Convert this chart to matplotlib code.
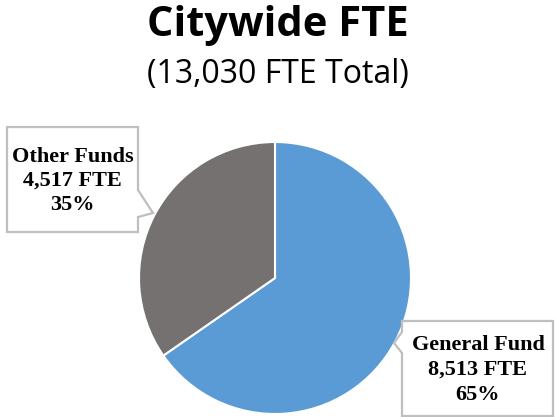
import matplotlib
matplotlib.use("Agg")
import matplotlib.pyplot as plt
import numpy as np
from matplotlib.patches import Polygon

title = "Citywide FTE"
subtitle = "(13,030 FTE Total)"
categories = ["General Fund", "Other Funds"]
fte = [8513, 4517]
pct_labels = ["65%", "35%"]
colors = ["#5B9BD5", "#767171"]

W, H = 555, 417
fig = plt.figure(figsize=(W / 100, H / 100), dpi=100)
fig.patch.set_facecolor("white")

def fx(px):
    return px / W

def fy(py):
    return 1 - py / H

cx, cy, r = 275, 278, 136
ax = fig.add_axes([fx(cx - r), fy(cy + r), 2 * r / W, 2 * r / H])
wedges, _ = ax.pie(fte, colors=colors, startangle=90, counterclock=False,
                   wedgeprops=dict(edgecolor="white", linewidth=1.5))
ax.set_xlim(-1, 1)
ax.set_ylim(-1, 1)
ax.set_aspect("auto")
ax.axis("off")

fig.text(0.5, fy(26), title, ha="center", va="center", fontsize=30,
         fontweight="bold", family="Open Sans")
fig.text(0.5, fy(75), subtitle, ha="center", va="center", fontsize=23,
         family="Open Sans")

edge = "#BFBFBF"

def callout(pts):
    poly = Polygon([(fx(x), fy(y)) for x, y in pts], closed=True,
                   facecolor="white", edgecolor=edge, linewidth=1.6,
                   transform=fig.transFigure, zorder=5)
    fig.add_artist(poly)

# Other Funds box (left) with pointer on right edge
callout([(7, 127), (138, 127), (138, 190), (153, 213), (138, 217),
         (138, 232), (7, 232)])
# General Fund box (right) with pointer on left edge
callout([(402, 321), (553, 321), (553, 416), (402, 416), (402, 353),
         (394, 343), (402, 332)])

def label_text(i):
    return f"{categories[i]}\n{fte[i]:,} FTE\n{pct_labels[i]}"

fig.text(fx(72.5), fy(181), label_text(1), ha="center", va="center",
         fontsize=16, fontweight="bold", family="Liberation Serif",
         linespacing=1.3, zorder=6)
fig.text(fx(478), fy(370), label_text(0), ha="center", va="center",
         fontsize=16, fontweight="bold", family="Liberation Serif",
         linespacing=1.3, zorder=6)

fig.savefig("out.png", dpi=100, facecolor="white")
